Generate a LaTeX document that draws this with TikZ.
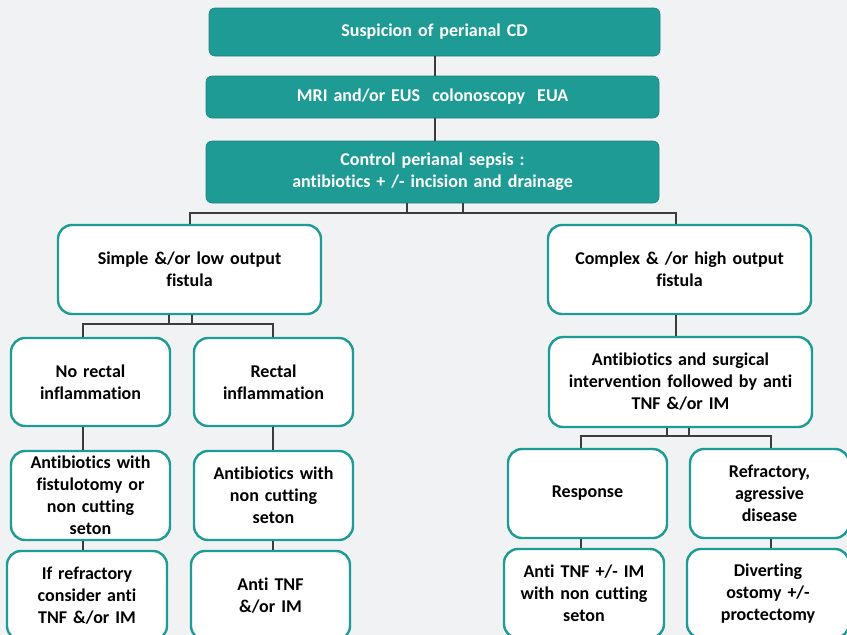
\documentclass[tikz,border=0pt]{standalone}
\usepackage{fontspec}
\setmainfont[Ligatures={NoCommon}]{Carlito}
\usetikzlibrary{calc}
\definecolor{teal1}{RGB}{31,155,149}
\definecolor{bg}{RGB}{241,242,244}
\definecolor{wire}{RGB}{60,60,60}
\tikzset{
  headbox/.style={draw=teal1!85!black, line width=0.6pt, fill=teal1, rounded corners=6pt,
    text=white, font=\bfseries\fontsize{18}{22}\selectfont, align=center, inner sep=2pt},
  stepbox/.style={draw=teal1, line width=2.4pt, fill=white, rounded corners=14pt,
    text=black, font=\bfseries\fontsize{18}{22}\selectfont, align=center, inner sep=2pt},
  wirestyle/.style={draw=wire, line width=1.3pt}
}
\newcommand{\bx}[7]{% name, style, x1, y1, x2, y2, text
  \node[#2, minimum width={#5-#3}, minimum height={#6-#4}, text width={#5-#3-10}]
    (#1) at ({(#3+#5)/2},{(#4+#6)/2+1}) {#7};}
\begin{document}
\begin{tikzpicture}[x=1pt,y=-1pt]
  \useasboundingbox (0,0) rectangle (847,635);
  \clip (0,0) rectangle (847,635);
  \fill[bg] (0,0) rectangle (847,635);

  % header boxes
  \bx{top}{headbox}{209}{7}{660}{55}{Suspicion of perianal CD}
  \bx{mri}{headbox}{206}{75}{659}{117}{MRI and/or EUS\ \ colonoscopy\ \ EUA}
  \bx{sepsis}{headbox}{206}{140}{659}{202}{Control perianal sepsis :\\antibiotics + /- incision and drainage}

  % fistula type
  \bx{simple}{stepbox}{58}{224}{321}{313}{Simple \&/or low output\\fistula}
  \bx{complex}{stepbox}{548}{224}{811}{313}{Complex \& /or high output\\fistula}

  % simple branch
  \bx{norectal}{stepbox}{11}{337}{170}{425}{No rectal\\inflammation}
  \bx{rectal}{stepbox}{194}{337}{353}{425}{Rectal\\inflammation}
  \bx{abxfist}{stepbox}{11}{450}{170}{539}{Antibiotics with\\fistulotomy or\\non cutting\\seton}
  \bx{abxseton}{stepbox}{194}{450}{353}{539}{Antibiotics with\\non cutting\\seton}
  \bx{ifrefr}{stepbox}{7}{550}{167}{639}{If refractory\\consider anti\\TNF \&/or IM}
  \bx{antitnf}{stepbox}{191}{550}{350}{639}{Anti TNF\\\&/or IM}

  % complex branch
  \bx{abxsurg}{stepbox}{549}{336}{812}{426}{Antibiotics and surgical\\intervention followed by anti\\TNF \&/or IM}
  \bx{response}{stepbox}{508}{448}{667}{537}{Response}
  \bx{refract}{stepbox}{690}{448}{849}{537}{Refractory,\\agressive\\disease}
  \bx{antiim}{stepbox}{504}{548}{664}{637}{Anti TNF +/- IM\\with non cutting\\seton}
  \bx{divert}{stepbox}{687}{548}{849}{637}{Diverting\\ostomy +/-\\proctectomy}

  % bus heights
  \coordinate (busA) at (0,213);
  \coordinate (busB) at (0,324);
  \coordinate (busC) at (0,436);

  % trunk
  \draw[wirestyle] ($(top.south)+(0.5,0)$) -- ($(mri.north)+(2.5,0)$);
  \draw[wirestyle] ($(mri.south)+(2.5,0)$) -- ($(sepsis.north)+(2.5,0)$);

  % split into fistula types
  \draw[wirestyle] ($(sepsis.south)+(30.5,0)$) |- ($(busA)+(190,0)$) -- ($(simple.north)+(0.5,0)$);
  \draw[wirestyle] ($(sepsis.south)+(-25.5,0)$) |- ($(busA)+(676,0)$) -- ($(complex.north)+(-3.5,0)$);

  % simple fistula split
  \draw[wirestyle] ($(simple.south)+(2.5,0)$) |- ($(busB)+(83,0)$) -- ($(norectal.north)+(-7.5,0)$);
  \draw[wirestyle] ($(simple.south)+(-20.5,0)$) |- ($(busB)+(273,0)$) -- ($(rectal.north)+(-0.5,0)$);
  \draw[wirestyle] ($(norectal.south)+(-7.5,0)$) -- ($(abxfist.north)+(-7.5,0)$);
  \draw[wirestyle] ($(rectal.south)+(-0.5,0)$) -- ($(abxseton.north)+(-0.5,0)$);
  \draw[wirestyle] ($(abxfist.south)+(-7.5,0)$) -- ($(ifrefr.north)+(-4,0)$);
  \draw[wirestyle] ($(abxseton.south)+(-0.5,0)$) -- ($(antitnf.north)+(2.5,0)$);

  % complex fistula
  \draw[wirestyle] ($(complex.south)+(-3.5,0)$) -- ($(abxsurg.north)+(-4.5,0)$);
  \draw[wirestyle] ($(abxsurg.south)+(8.5,0)$) |- ($(busC)+(581,0)$) -- ($(response.north)+(-6.5,0)$);
  \draw[wirestyle] ($(abxsurg.south)+(-13.5,0)$) |- ($(busC)+(771,0)$) -- ($(refract.north)+(1.5,0)$);
  \draw[wirestyle] ($(response.south)+(-6.5,0)$) -- ($(antiim.north)+(-3,0)$);
  \draw[wirestyle] ($(refract.south)+(1.5,0)$) -- ($(divert.north)+(3,0)$);
\end{tikzpicture}
\end{document}
